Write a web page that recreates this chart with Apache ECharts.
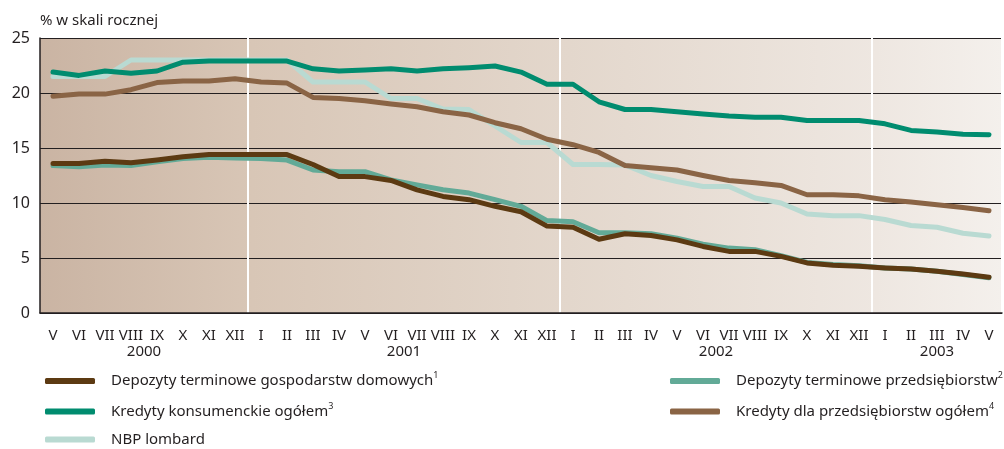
<!DOCTYPE html>
<html>
<head>
<meta charset="utf-8">
<script src="https://cdn.jsdelivr.net/npm/echarts@6/dist/echarts.min.js"></script>
<style>
  html, body { margin: 0; padding: 0; background: #fff; }
  #chart { width: 1004px; height: 449px; }
</style>
</head>
<body>
<div id="chart"></div>
<script>
// months V 2000 .. V 2003
const months = [
  "V", "VI", "VII", "VIII", "IX", "X", "XI", "XII",
  "I", "II", "III", "IV", "V", "VI", "VII", "VIII", "IX", "X", "XI", "XII",
  "I", "II", "III", "IV", "V", "VI", "VII", "VIII", "IX", "X", "XI", "XII",
  "I", "II", "III", "IV", "V"
];
const yearLabels = ["2000", "2001", "2002", "2003"];
const yearPositions = [4, 14, 26, 34.5];
const yTicks = [0, 5, 10, 15, 20, 25];

const depozytyGosp = [
  13.6, 13.6, 13.8, 13.65, 13.9, 14.2, 14.4, 14.4, 14.4, 14.4,
  13.5, 12.4, 12.4, 12.05, 11.2, 10.6, 10.3, 9.7, 9.2,
  7.9, 7.8, 6.7, 7.2, 7.05, 6.65, 6.05, 5.6, 5.6,
  5.15, 4.55, 4.35, 4.25, 4.1, 4.0, 3.8, 3.55, 3.25
];
const depozytyPrzeds = [
  13.4, 13.3, 13.45, 13.4, 13.75, 14.05, 14.15, 14.1, 14.05, 13.9,
  13.0, 12.85, 12.85, 12.1, 11.65, 11.2, 10.9, 10.3, 9.7,
  8.4, 8.3, 7.3, 7.3, 7.2, 6.8, 6.25, 5.9, 5.75,
  5.2, 4.6, 4.4, 4.3, 4.1, 4.0, 3.8, 3.5, 3.2
];
const kredytyKons = [
  21.9, 21.6, 22.0, 21.8, 22.0, 22.8, 22.9, 22.9, 22.9, 22.9,
  22.2, 22.0, 22.1, 22.2, 22.0, 22.2, 22.3, 22.45, 21.9,
  20.8, 20.8, 19.2, 18.5, 18.5, 18.3, 18.1, 17.9, 17.8,
  17.8, 17.5, 17.5, 17.5, 17.2, 16.6, 16.45, 16.25, 16.2
];
const kredytyPrzeds = [
  19.7, 19.9, 19.9, 20.3, 20.95, 21.1, 21.1, 21.3, 21.0, 20.9,
  19.6, 19.5, 19.3, 19.0, 18.75, 18.3, 18.0, 17.3, 16.75,
  15.8, 15.3, 14.6, 13.4, 13.2, 13.0, 12.5, 12.05, 11.85,
  11.6, 10.75, 10.75, 10.65, 10.3, 10.1, 9.85, 9.6, 9.3
];
const nbpLombard = [
  21.5, 21.5, 21.5, 23.0, 23.0, 23.0, 23.0, 23.0, 23.0, 23.0,
  21.0, 21.0, 21.0, 19.5, 19.5, 18.55, 18.5, 17.0, 15.5,
  15.5, 13.5, 13.5, 13.45, 12.5, 11.95, 11.5, 11.5, 10.45,
  10.0, 9.0, 8.85, 8.85, 8.5, 7.95, 7.8, 7.25, 7.0
];

const names = {
  gosp: "Depozyty terminowe gospodarstw domowych",
  przeds: "Depozyty terminowe przedsiębiorstw",
  kons: "Kredyty konsumenckie ogółem",
  kredPrzeds: "Kredyty dla przedsiębiorstw ogółem",
  lombard: "NBP lombard"
};
const notes = {};
notes[names.gosp] = "1";
notes[names.przeds] = "2";
notes[names.kons] = "3";
notes[names.kredPrzeds] = "4";

const FONT = "Noto Sans";
const TEXT = "#231f20";

function line(name, data, color) {
    return {
        name: name,
        type: "line",
        data: data,
        symbol: "none",
        lineStyle: { color: color, width: 5, cap: "round", join: "round" },
        itemStyle: { color: color },
        emphasis: { disabled: true }
    };
}

const legendText = {
    fontFamily: FONT,
    fontSize: 15,
    color: TEXT,
    padding: [0, 0, 0, 11],
    rich: {
        sup: { fontFamily: FONT, fontSize: 9, color: TEXT, verticalAlign: "top", lineHeight: 20 }
    }
};
const legendFormatter = name => notes[name] ? name + "{sup|" + notes[name] + "}" : name;

function legendBlock(left, items) {
    return {
        orient: "vertical",
        left: left,
        top: 366,
        height: 90,
        itemWidth: 50,
        itemHeight: 6,
        itemGap: 13,
        icon: "roundRect",
        data: items,
        formatter: legendFormatter,
        textStyle: legendText,
        selectedMode: false
    };
}

let myChart = echarts.init(document.getElementById("chart"));

let option = {
    animation: false,
    textStyle: { fontFamily: FONT },
    title: {
        text: "% w skali rocznej",
        left: 35,
        top: 8,
        textStyle: { fontFamily: FONT, fontSize: 15, fontWeight: "normal", color: TEXT }
    },
    legend: [
        legendBlock(40, [names.gosp, names.kons, names.lombard]),
        legendBlock(665, [names.przeds, names.kredPrzeds])
    ],
    grid: {
        left: 40,
        right: 2,
        top: 38,
        bottom: 136,
        show: true,
        borderWidth: 0,
        backgroundColor: {
            type: "linear",
            x: 0, y: 0, x2: 1, y2: 0,
            colorStops: [
                { offset: 0, color: "#cab4a3" },
                { offset: 0.22, color: "#d8c6b6" },
                { offset: 0.55, color: "#e3d7cc" },
                { offset: 0.87, color: "#eee7e1" },
                { offset: 1, color: "#f4f0ec" }
            ]
        }
    },
    xAxis: [
        {
            type: "category",
            data: months,
            boundaryGap: true,
            axisLine: { lineStyle: { color: "#231f20", width: 1.5 } },
            axisTick: { inside: true, length: 6, interval: 0, lineStyle: { color: "#333" } },
            axisLabel: { interval: 0, fontFamily: FONT, fontSize: 15, color: TEXT, margin: 15 },
            splitLine: {
                show: true,
                interval: (index) => index === 8 || index === 20 || index === 32,
                lineStyle: { color: "#ffffff", width: 2 }
            }
        },
        {
            type: "value",
            position: "bottom",
            min: 0,
            max: 37,
            axisLine: { show: false },
            axisTick: { show: false },
            splitLine: { show: false },
            axisLabel: {
                customValues: yearPositions,
                formatter: (v) => yearLabels[yearPositions.indexOf(v)] || "",
                fontFamily: FONT,
                fontSize: 15,
                color: TEXT,
                margin: 31
            }
        }
    ],
    yAxis: {
        type: "value",
        min: 0,
        max: 25,
        interval: 5,
        axisLine: { show: true, lineStyle: { color: "#231f20", width: 1.5 } },
        axisTick: { show: false },
        axisLabel: {
            fontFamily: FONT,
            fontSize: 16,
            color: TEXT,
            margin: 10,
            formatter: (v) => yTicks.indexOf(v) >= 0 ? String(v) : ""
        },
        splitLine: { show: true, lineStyle: { color: "#231f20", width: 1 } }
    },
    series: [
        line(names.lombard, nbpLombard, "#b9dad2"),
        line(names.przeds, depozytyPrzeds, "#62aa97"),
        line(names.kredPrzeds, kredytyPrzeds, "#8a6445"),
        line(names.kons, kredytyKons, "#008c6f"),
        line(names.gosp, depozytyGosp, "#5c3a12")
    ]
};

myChart.setOption(option);
</script>
</body>
</html>
